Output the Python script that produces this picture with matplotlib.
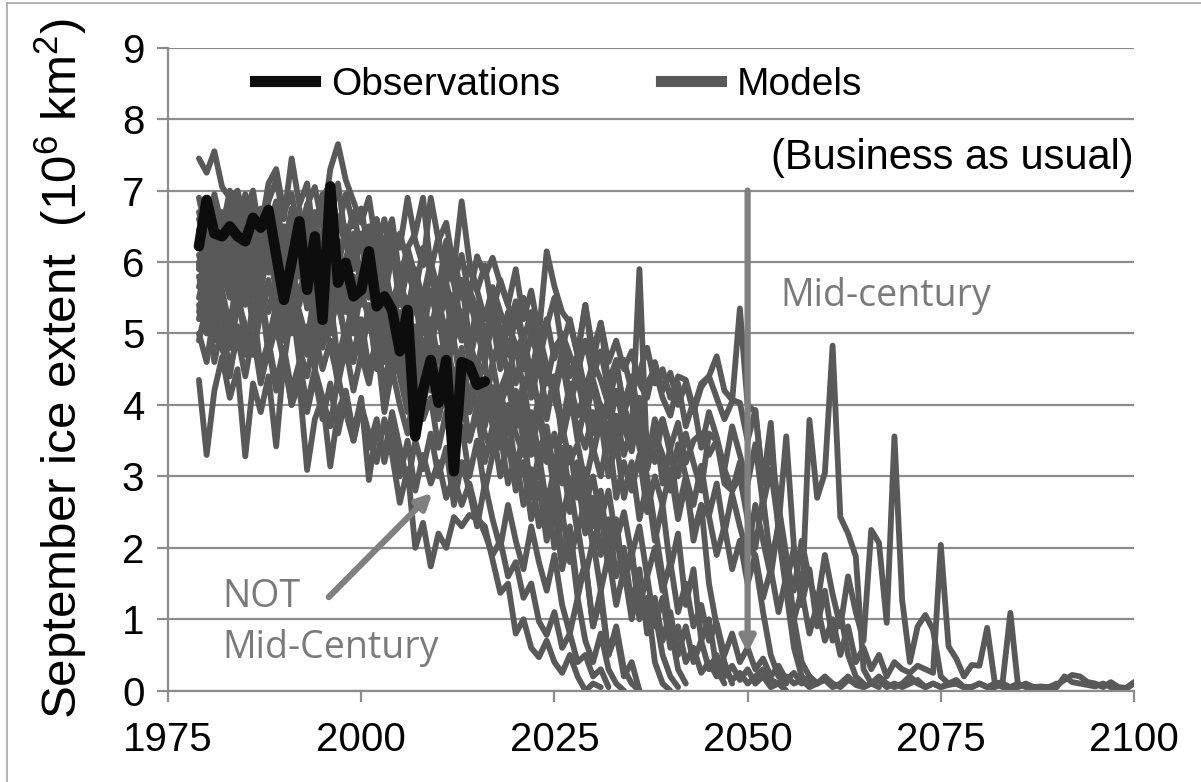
import numpy as np
import matplotlib
matplotlib.use("Agg")
import matplotlib.pyplot as plt
from matplotlib.lines import Line2D

plt.rcParams['font.family'] = ['Liberation Sans', 'DejaVu Sans']
plt.rcParams['mathtext.default'] = 'regular'

START_YEAR = 1979

# September extent, observations (10^6 km2)
observations = [
    6.22, 6.87, 6.40, 6.36, 6.50, 6.36, 6.29, 6.62, 6.48, 6.73,
    6.10, 5.47, 6.00, 6.57, 5.61, 6.36, 5.19, 7.06, 5.71, 5.99,
    5.52, 5.61, 6.15, 5.38, 5.52, 5.33, 4.75, 5.33, 3.56, 4.21,
    4.63, 4.03, 4.63, 3.07, 4.60, 4.55, 4.28, 4.33,
]

# model runs, business as usual scenario, one value per year from 1979
model_01 = [
    7.45, 7.25, 7.55, 7.05, 6.90, 7.00, 6.55, 6.90, 6.45, 7.10,
    7.30, 6.70, 6.95, 6.35, 6.80, 7.05, 6.50, 7.30, 7.65, 7.15,
    6.85, 6.55, 6.90, 6.20, 6.60, 5.95, 6.40, 6.00, 5.55, 6.20,
    5.85, 5.40, 6.05, 5.70, 5.10, 5.60, 5.35, 4.90, 5.45, 5.05,
    4.70, 5.25, 4.85, 4.40, 5.00, 4.55, 4.20, 4.75, 4.10, 4.50,
    3.85, 4.35, 3.95, 3.60, 4.20, 3.70, 3.35, 3.95, 3.10, 3.60,
    3.30, 2.80, 3.45, 3.00, 2.60, 3.15, 2.45, 2.90, 2.20, 2.75,
    2.30, 1.90, 2.60, 2.10, 1.60, 2.35, 1.80, 1.40, 2.10, 1.55,
    1.20, 1.90, 1.35, 0.90, 1.60, 1.10, 0.70, 2.25, 2.07, 0.95,
    3.56, 1.27, 0.40, 0.90, 1.06, 0.85, 0.20, 0.10, 0.15, 0.05,
]
model_02 = [
    6.60, 6.25, 6.95, 6.50, 6.90, 6.00, 6.70, 7.00, 6.30, 6.85,
    7.15, 6.60, 7.45, 6.80, 7.10, 6.20, 6.90, 7.10, 6.45, 6.95,
    6.50, 6.75, 6.10, 6.60, 5.95, 6.45, 6.20, 6.90, 6.30, 5.95,
    6.90, 6.30, 6.55, 5.90, 6.85, 6.00, 5.60, 5.95, 5.30, 5.75,
    5.40, 5.10, 5.50, 5.05, 4.80, 5.20, 4.65, 5.00, 4.70, 4.45,
    4.90, 4.40, 4.75, 4.20, 4.55, 4.00, 4.40, 3.80, 4.30, 4.50,
    4.10, 3.85, 4.30, 3.70, 4.05, 3.40, 3.90, 3.55, 3.10, 3.70,
    3.30, 2.90, 3.45, 2.60, 3.10, 2.30, 3.56, 2.00, 1.20, 3.79,
    2.70, 3.05, 4.83, 2.43, 2.20, 1.88, 0.30, 0.10, 0.05,
]
model_03 = [
    6.30, 6.80, 6.10, 6.55, 5.85, 6.40, 6.95, 6.20, 6.70, 6.00,
    6.45, 5.80, 6.30, 6.75, 5.90, 6.50, 6.10, 6.60, 7.10, 6.30,
    6.70, 6.15, 6.50, 5.80, 6.30, 6.60, 5.75, 6.20, 6.40, 6.90,
    5.90, 6.35, 5.70, 6.10, 5.50, 5.95, 5.60, 5.20, 5.65, 5.30,
    5.00, 5.45, 4.90, 5.30, 4.60, 5.10, 5.50, 4.80, 5.20, 4.70,
    5.40, 4.75, 5.15, 4.60, 4.90, 4.50, 4.75, 4.30, 4.10, 4.60,
    4.20, 4.45, 4.00, 4.30, 3.90, 4.25, 4.40, 4.10, 3.80, 4.05,
    5.35, 4.00, 3.90, 2.90, 3.75, 2.20, 1.40, 0.60, 0.20, 0.10,
]
model_04 = [
    5.90, 6.50, 5.70, 6.20, 6.70, 5.60, 6.10, 5.50, 6.45, 5.85,
    6.30, 5.60, 6.00, 6.60, 5.40, 6.15, 5.80, 5.30, 6.20, 5.70,
    5.20, 5.90, 5.50, 6.25, 5.60, 5.00, 5.70, 5.30, 4.80, 5.45,
    5.00, 5.60, 4.70, 5.20, 5.75, 4.90, 4.50, 5.10, 4.60, 4.95,
    4.40, 4.85, 4.20, 4.60, 3.90, 4.50, 4.10, 3.70, 4.30, 3.85,
    4.20, 3.60, 4.00, 3.40, 3.85, 3.30, 3.70, 4.10, 3.50, 3.20,
    3.80, 3.30, 3.00, 3.60, 3.19, 2.80, 3.60, 3.50, 2.90, 2.80,
    3.20, 2.50, 2.00, 2.70, 1.80, 2.30, 1.50, 2.00, 1.20, 1.70,
    0.90, 1.40, 0.70, 1.10, 0.50, 0.20, 0.10,
]
model_05 = [
    5.50, 5.95, 5.20, 5.80, 6.30, 5.40, 5.90, 5.25, 5.70, 6.20,
    5.60, 5.10, 5.75, 5.30, 4.90, 5.60, 5.15, 5.80, 5.40, 4.95,
    5.50, 4.80, 5.30, 5.00, 4.60, 5.20, 4.85, 4.40, 5.05, 4.60,
    4.20, 4.80, 4.40, 3.90, 4.50, 4.10, 4.60, 3.80, 4.25, 3.95,
    3.60, 4.20, 3.75, 3.30, 3.90, 3.50, 3.10, 3.70, 3.20, 3.45,
    2.90, 3.40, 3.00, 3.60, 2.70, 3.20, 2.80, 3.30, 2.50, 3.00,
    2.60, 3.10, 2.40, 2.90, 2.20, 2.60, 2.44, 1.90, 2.30, 1.70,
    2.10, 1.50, 1.90, 1.30, 1.70, 1.10, 1.60, 1.00, 1.40, 0.80,
    1.20, 0.70, 1.00, 0.50, 0.90, 0.40, 0.60, 0.30, 0.50, 0.20,
    0.40, 0.30, 0.25, 0.35, 0.30, 0.25, 2.04, 0.62, 0.45, 0.20,
    0.36, 0.35, 0.88, 0.10, 0.12, 1.09, 0.06, 0.08, 0.05, 0.06,
    0.04, 0.05, 0.20, 0.12, 0.10, 0.08, 0.06, 0.10, 0.05, 0.04,
    0.03, 0.10,
]
model_06 = [
    6.00, 5.60, 6.35, 5.90, 5.50, 6.20, 5.80, 6.50, 5.95, 6.30,
    5.70, 6.40, 5.90, 5.50, 6.10, 6.60, 5.85, 6.30, 5.60, 6.05,
    6.40, 5.75, 6.10, 5.50, 5.95, 5.40, 5.80, 5.20, 5.70, 5.35,
    5.85, 5.45, 5.00, 5.55, 5.20, 4.80, 5.40, 5.00, 5.30, 4.70,
    5.10, 4.85, 4.50, 5.00, 4.60, 4.30, 4.80, 4.95, 4.40, 4.70,
    4.20, 4.60, 4.35, 4.00, 4.50, 4.63, 4.20, 4.45, 4.80, 4.30,
    4.50, 4.10, 4.40, 4.35, 3.95, 4.30, 4.40, 4.68, 4.20, 4.07,
    4.03, 3.50, 3.93, 2.90, 3.40, 2.60, 1.90, 1.00, 0.40, 0.20,
    0.10,
]
model_07 = [
    5.40, 5.00, 5.70, 5.20, 4.80, 5.50, 5.10, 4.70, 5.30, 5.75,
    5.20, 4.90, 5.45, 4.60, 5.10, 4.50, 5.30, 4.80, 4.40, 5.00,
    4.60, 5.10, 4.40, 4.80, 4.20, 4.90, 4.50, 4.10, 4.70, 4.30,
    4.80, 4.20, 4.55, 4.00, 4.40, 4.70, 3.90, 4.30, 3.70, 4.20,
    4.50, 3.90, 4.30, 3.60, 4.10, 3.80, 4.40, 3.50, 4.00, 3.70,
    3.40, 3.90, 3.60, 4.00, 3.30, 3.80, 3.50, 3.70, 3.10, 3.60,
    3.80, 3.40, 3.75, 3.19, 3.50, 3.60, 3.30, 3.50, 3.10, 2.80,
    3.00, 2.40, 1.80, 1.10, 0.50, 0.20, 0.10,
]
model_08 = [
    6.20, 6.60, 5.95, 6.40, 6.00, 6.70, 6.10, 5.70, 6.30, 6.55,
    6.00, 6.50, 5.75, 6.20, 6.80, 5.90, 6.35, 5.60, 6.10, 5.80,
    6.30, 5.65, 6.00, 6.50, 5.50, 6.10, 5.80, 5.30, 5.90, 5.45,
    5.60, 5.10, 5.70, 5.30, 4.90, 5.50, 5.05, 4.60, 5.20, 4.80,
    5.30, 4.70, 5.00, 4.40, 4.90, 4.50, 4.10, 4.60, 4.00, 4.40,
    3.80, 4.30, 3.70, 4.10, 3.50, 4.00, 3.60, 5.90, 3.20, 3.80,
    2.90, 3.40, 2.50, 3.00, 2.10, 2.60, 1.50, 0.90, 0.40, 0.10,
]
model_09 = [
    6.70, 6.30, 6.90, 6.45, 7.00, 6.60, 6.20, 6.85, 6.40, 6.00,
    6.60, 6.20, 6.75, 6.30, 5.90, 6.50, 6.95, 6.10, 6.60, 6.25,
    5.90, 6.40, 6.00, 6.60, 5.85, 6.30, 5.70, 6.20, 5.80, 5.50,
    6.00, 5.60, 6.30, 5.70, 6.10, 5.50, 6.08, 5.80, 6.06, 5.70,
    5.40, 5.90, 5.20, 5.60, 5.00, 6.15, 5.66, 5.30, 5.15, 4.70,
    5.40, 4.60, 5.15, 4.30, 4.63, 3.90, 4.20, 3.40, 3.00, 2.30,
    1.60, 0.90, 0.30, 0.10,
]
model_10 = [
    5.00, 4.60, 5.30, 4.80, 4.40, 5.10, 4.70, 5.40, 4.50, 4.90,
    4.30, 4.80, 4.20, 4.60, 4.00, 4.50, 4.10, 3.70, 4.40, 3.90,
    3.50, 4.00, 3.60, 3.20, 3.80, 3.30, 2.63, 3.10, 2.00, 2.35,
    1.74, 2.20, 2.00, 2.43, 2.30, 2.46, 2.40, 2.30, 1.83, 1.37,
    1.50, 0.80, 1.00, 0.60, 0.47, 0.70, 0.40, 0.25, 0.50, 0.20,
    0.00, 0.10, 0.05,
]
model_11 = [
    4.35, 3.30, 4.20, 4.67, 4.10, 4.50, 3.28, 4.30, 3.90, 4.40,
    3.42, 4.65, 4.00, 4.30, 3.09, 3.80, 4.10, 3.14, 3.90, 4.20,
    3.60, 4.10, 2.95, 3.70, 3.30, 3.90, 3.40, 2.90, 3.50, 3.10,
    3.60, 3.00, 3.40, 2.60, 3.20, 2.80, 2.30, 2.90, 2.40, 2.00,
    2.60, 2.10, 1.70, 2.30, 1.80, 1.40, 1.90, 1.20, 0.80, 1.30,
    0.70, 0.40, 0.80, 0.30, 0.10, 0.00,
]
model_12 = [
    5.80, 5.35, 6.10, 5.60, 5.10, 5.85, 5.40, 6.00, 5.20, 5.70,
    5.30, 5.90, 5.00, 5.50, 5.95, 4.90, 5.40, 5.00, 5.60, 4.80,
    5.20, 4.70, 5.30, 4.50, 5.00, 4.40, 4.80, 4.20, 4.60, 4.00,
    4.50, 3.80, 4.30, 3.60, 4.10, 3.50, 3.90, 3.20, 3.70, 3.00,
    3.50, 2.80, 3.20, 2.40, 2.90, 2.10, 2.60, 1.70, 2.20, 1.30,
    1.80, 0.90, 1.40, 0.50, 0.90, 0.30, 0.10, 0.00,
]
model_13 = [
    6.45, 5.90, 6.20, 6.70, 6.00, 6.35, 5.75, 6.50, 6.00, 6.60,
    6.10, 5.70, 6.40, 5.90, 6.20, 5.50, 6.00, 6.45, 5.70, 5.30,
    5.80, 5.40, 5.90, 5.10, 5.60, 5.20, 4.90, 5.50, 4.70, 5.20,
    4.80, 5.30, 4.50, 4.90, 4.20, 4.70, 4.40, 3.90, 4.60, 4.00,
    4.30, 3.70, 4.10, 3.40, 3.90, 3.20, 3.60, 2.90, 3.40, 2.70,
    3.10, 2.30, 2.80, 1.90, 2.40, 1.50, 2.00, 1.00, 1.30, 0.40,
    0.10, 0.00,
]
model_14 = [
    5.65, 6.10, 5.40, 5.90, 6.35, 5.50, 6.00, 6.40, 5.70, 5.30,
    5.80, 6.20, 5.50, 6.00, 5.35, 5.70, 5.20, 5.80, 6.30, 5.50,
    5.00, 5.60, 5.20, 4.70, 5.40, 4.90, 5.30, 4.60, 5.10, 4.40,
    4.90, 4.30, 4.70, 4.10, 4.50, 3.90, 4.40, 3.80, 4.20, 3.50,
    4.00, 3.60, 3.30, 3.80, 3.10, 3.50, 2.80, 3.30, 2.50, 3.00,
    2.20, 2.70, 1.90, 2.40, 1.60, 2.00, 1.20, 1.70, 0.80, 1.10,
    0.50, 0.20, 0.05,
]
model_15 = [
    5.20, 5.75, 5.00, 5.50, 4.80, 5.35, 5.90, 5.10, 5.60, 4.90,
    5.40, 4.90, 5.60, 5.10, 4.70, 5.30, 4.80, 5.50, 4.60, 5.10,
    4.70, 5.20, 4.50, 4.90, 4.30, 4.80, 4.40, 3.90, 4.50, 4.10,
    4.60, 4.00, 4.40, 3.70, 4.20, 3.50, 4.00, 3.60, 3.30, 3.90,
    3.40, 3.00, 3.60, 2.80, 3.30, 2.60, 3.10, 2.40, 2.90, 2.20,
    2.70, 2.00, 2.50, 1.70, 2.20, 1.50, 1.90, 1.20, 1.60, 0.90,
    1.30, 0.60, 0.90, 0.40, 0.60, 0.25, 0.40, 0.20, 0.30, 0.15,
    0.25, 0.10, 0.20, 0.30, 0.15, 0.10, 0.20, 0.10, 0.15, 0.05,
    0.10, 0.20, 0.10, 0.05, 0.15, 0.10, 0.05, 0.10, 0.20, 0.10,
    0.05, 0.10, 0.20, 0.10, 0.05, 0.10, 0.05, 0.10, 0.10, 0.05,
    0.05, 0.10, 0.05, 0.10, 0.05, 0.05, 0.10, 0.05, 0.05, 0.05,
    0.05, 0.10,
]
model_16 = [
    6.10, 5.70, 6.50, 6.10, 6.60, 5.90, 6.40, 6.00, 6.75, 6.25,
    6.70, 6.05, 6.50, 5.80, 6.30, 6.70, 6.00, 6.40, 5.90, 6.50,
    6.00, 6.30, 5.60, 6.10, 5.70, 6.20, 5.40, 5.90, 5.50, 5.00,
    5.60, 5.20, 5.50, 4.90, 5.30, 4.60, 5.10, 4.70, 5.20, 4.50,
    4.90, 4.30, 4.80, 4.10, 4.60, 3.90, 4.40, 3.70, 4.20, 3.50,
    4.00, 3.30, 3.80, 3.00, 3.50, 2.70, 3.20, 2.40, 2.90, 2.10,
    2.60, 1.70, 2.20, 1.20, 1.70, 0.70, 1.00, 0.30, 0.10,
]
model_17 = [
    5.30, 5.80, 4.90, 5.50, 5.10, 5.70, 4.80, 5.20, 5.60, 4.70,
    5.10, 4.60, 5.30, 4.80, 4.40, 5.00, 4.50, 4.90, 4.30, 4.80,
    4.20, 4.70, 4.30, 4.90, 3.90, 4.50, 4.00, 3.60, 4.30, 3.80,
    4.10, 3.40, 3.90, 3.20, 3.70, 3.00, 3.50, 2.80, 3.30, 3.60,
    2.90, 3.30, 2.60, 3.10, 2.30, 2.80, 2.00, 2.50, 1.80, 2.30,
    1.60, 2.10, 1.40, 1.90, 1.20, 1.70, 1.00, 1.50, 0.90, 1.30,
    0.70, 1.10, 0.50, 0.90, 0.40, 0.70, 0.30, 0.50, 0.20, 0.35,
    0.15, 0.30, 0.10, 0.20, 0.05, 0.10, 0.00,
]
model_18 = [
    6.90, 6.40, 6.75, 6.20, 6.60, 6.95, 6.30, 6.70, 6.10, 6.45,
    6.85, 6.20, 6.60, 6.00, 6.50, 5.90, 6.40, 6.75, 6.00, 5.60,
    6.20, 5.70, 6.10, 5.40, 5.90, 5.20, 5.70, 5.00, 5.50, 4.70,
    5.20, 4.60, 5.00, 4.30, 4.80, 4.00, 4.50, 3.70, 4.20, 3.40,
    3.90, 3.10, 3.60, 2.70, 3.20, 2.30, 2.80, 1.90, 2.30, 1.40,
    1.80, 0.90, 1.30, 0.50, 0.80, 0.20, 0.40, 0.00,
]
model_19 = [
    4.90, 5.40, 4.60, 5.10, 4.50, 4.95, 4.40, 5.00, 4.30, 4.80,
    4.20, 4.70, 4.00, 4.50, 3.90, 4.40, 3.80, 4.30, 3.60, 4.10,
    3.50, 4.00, 3.40, 3.80, 3.20, 3.70, 3.00, 3.50, 2.80, 3.30,
    2.90, 3.20, 2.70, 3.00, 2.60, 2.90, 2.46, 2.20, 1.90, 2.10,
    1.60, 1.80, 1.30, 1.50, 0.97, 0.78, 1.10, 0.60, 0.80, 0.40,
    0.50, 0.20, 0.30, 0.05,
]
model_20 = [
    5.95, 6.40, 5.60, 6.10, 5.70, 6.30, 5.50, 6.00, 5.60, 6.20,
    5.80, 5.30, 5.90, 5.40, 6.00, 5.20, 5.70, 5.10, 5.50, 5.90,
    5.30, 4.80, 5.40, 4.90, 5.20, 4.60, 5.00, 4.50, 4.90, 4.30,
    4.70, 4.40, 4.80, 4.10, 4.50, 3.90, 4.30, 4.60, 3.80, 4.20,
    3.70, 4.10, 3.50, 3.90, 3.30, 3.70, 3.00, 3.40, 2.80, 3.20,
    2.60, 3.00, 2.40, 2.80, 2.10, 2.50, 1.90, 2.30, 1.60, 2.00,
    1.40, 1.80, 1.10, 1.50, 0.90, 1.20, 0.70, 0.95, 0.50, 0.80,
    0.40, 0.60, 0.30, 0.45, 0.20, 0.35, 0.15, 0.25, 0.10, 0.20,
    0.10, 0.15, 0.05, 0.10, 0.20, 0.08, 0.05, 0.10, 0.15, 0.05,
    0.10, 0.05, 0.10, 0.15, 0.05, 0.10, 0.05, 0.08, 0.10, 0.05,
    0.05, 0.10, 0.05, 0.05, 0.10, 0.05, 0.05, 0.10, 0.05, 0.05,
    0.05, 0.08, 0.15, 0.22, 0.20, 0.12, 0.10, 0.05, 0.12, 0.05,
    0.04, 0.12,
]

models = [
    model_01, model_02, model_03, model_04, model_05, model_06, model_07,
    model_08, model_09, model_10, model_11, model_12, model_13, model_14,
    model_15, model_16, model_17, model_18, model_19, model_20,
]

x_ticks = [1975, 2000, 2025, 2050, 2075, 2100]
y_ticks = list(range(0, 10))

MODEL_COLOR = '#595959'
OBS_COLOR = '#0d0d0d'
GRID_COLOR = '#8c8c8c'
NOTE_COLOR = '#7a7a7a'

fig = plt.figure(figsize=(12.01, 7.82), dpi=100)
ax = fig.add_axes([168 / 1201, 91.3 / 782, 966 / 1201, 643 / 782])

for run in models:
    yrs = START_YEAR + np.arange(len(run))
    ax.plot(yrs, run, color=MODEL_COLOR, lw=4.2, solid_joinstyle='round',
            solid_capstyle='round', zorder=2)

obs_years = START_YEAR + np.arange(len(observations))
ax.plot(obs_years, observations, color=OBS_COLOR, lw=7.5,
        solid_joinstyle='round', solid_capstyle='round', zorder=3)

ax.set_xlim(1975, 2100)
ax.set_ylim(0, 9)
ax.set_xticks(x_ticks)
ax.set_yticks(y_ticks)
ax.yaxis.grid(True, color=GRID_COLOR, lw=1.6)
ax.set_axisbelow(True)
for side in ('top', 'right'):
    ax.spines[side].set_visible(False)
for side in ('left', 'bottom'):
    ax.spines[side].set_color(GRID_COLOR)
    ax.spines[side].set_linewidth(1.6)
ax.tick_params(axis='x', length=8, width=1.6, color=GRID_COLOR, pad=14,
               labelsize=29)
ax.tick_params(axis='y', length=8, width=1.6, color=GRID_COLOR, pad=9,
               labelsize=29)

ax.set_ylabel('September ice extent  (10$^6$ km$^2$)', fontsize=35.5,
              labelpad=24)

# legend with thick sample strokes
handles = [Line2D([], [], color=OBS_COLOR, lw=8),
           Line2D([], [], color=MODEL_COLOR, lw=8)]
ax.legend(handles, ['Observations', 'Models'], loc='center left',
          bbox_to_anchor=(0.09, 0.942), ncol=2, frameon=False, fontsize=28,
          handlelength=1.55, handletextpad=0.4, columnspacing=2.6,
          borderpad=0, borderaxespad=0)

ax.text(2100, 7.3, '(Business as usual)', fontsize=30, ha='right',
        va='baseline', zorder=5)

# annotations
note_font = ['Open Sans', 'DejaVu Sans']
ax.text(2054.2, 5.38, 'Mid-century', fontsize=27, color=NOTE_COLOR,
        family=note_font, va='baseline', zorder=5)
ax.text(1982.0, 1.17, 'NOT', fontsize=27, color=NOTE_COLOR,
        family=note_font, va='baseline', zorder=5)
ax.text(1982.0, 0.46, 'Mid-Century', fontsize=27, color=NOTE_COLOR,
        family=note_font, va='baseline', zorder=5)

ax.annotate('', xy=(2050, 0.53), xytext=(2050, 7.0),
            arrowprops=dict(arrowstyle='-|>', lw=4.5, color='#808080',
                            mutation_scale=22, shrinkA=0, shrinkB=0),
            zorder=4)
ax.annotate('', xy=(2009.2, 2.77), xytext=(1995.8, 1.31),
            arrowprops=dict(arrowstyle='-|>', lw=4.5, color='#808080',
                            mutation_scale=22, shrinkA=0, shrinkB=0),
            zorder=4)

# thin frame along the top and left edges
fig.add_artist(Line2D([7 / 1201, 7 / 1201], [0, 1 - 3 / 782],
                      transform=fig.transFigure, color='#a6a6a6', lw=1.2))
fig.add_artist(Line2D([7 / 1201, 1], [1 - 3 / 782, 1 - 3 / 782],
                      transform=fig.transFigure, color='#a6a6a6', lw=1.2))

fig.savefig('out.png', dpi=100)
